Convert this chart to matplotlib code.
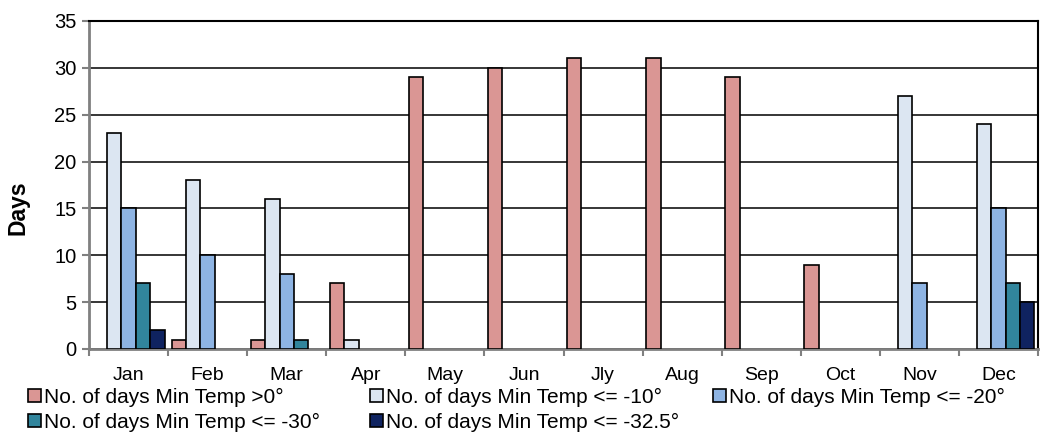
import numpy as np
import matplotlib.pyplot as plt
from matplotlib.patches import Patch

plt.rcParams['font.family'] = ['Liberation Sans', 'DejaVu Sans']

months = ['Jan', 'Feb', 'Mar', 'Apr', 'May', 'Jun', 'Jly', 'Aug', 'Sep', 'Oct', 'Nov', 'Dec']
series_names = ['No. of days Min Temp >0°',
                'No. of days Min Temp <= -10°',
                'No. of days Min Temp <= -20°',
                'No. of days Min Temp <= -30°',
                'No. of days Min Temp <= -32.5°']
above_0 = [0, 1, 1, 7, 29, 30, 31, 31, 29, 9, 0, 0]
below_10 = [23, 18, 16, 1, 0, 0, 0, 0, 0, 0, 27, 24]
below_20 = [15, 10, 8, 0, 0, 0, 0, 0, 0, 0, 7, 15]
below_30 = [7, 0, 1, 0, 0, 0, 0, 0, 0, 0, 0, 7]
below_32_5 = [2, 0, 0, 0, 0, 0, 0, 0, 0, 0, 0, 5]
colors = ['#DA9694', '#DCE6F2', '#8EB4E3', '#31859C', '#0F2360']

all_series = [above_0, below_10, below_20, below_30, below_32_5]

W, H = 1040, 433
fig = plt.figure(figsize=(W / 100, H / 100), dpi=100)
ax = fig.add_axes([89 / W, 1 - 349 / H, 949 / W, 328 / H])

x = np.arange(len(months))
bar_w = 0.182
for i, (vals, col) in enumerate(zip(all_series, colors)):
    vals = np.array(vals, dtype=float)
    mask = vals > 0
    ax.bar(x[mask] + (i - 2) * bar_w, vals[mask], width=bar_w, color=col,
           edgecolor='black', linewidth=1.2, zorder=3)

ax.set_xlim(-0.5, len(months) - 0.5)
ax.set_ylim(0, 35)
ax.set_yticks(range(0, 36, 5))
ax.yaxis.grid(True, color='black', linewidth=1.1, zorder=0)
ax.set_axisbelow(True)

ax.set_xticks(x)
ax.set_xticklabels(months, fontsize=14)
ax.set_xticks(np.arange(-0.5, len(months)), minor=True)
ax.tick_params(axis='x', which='major', length=0, pad=13)
ax.tick_params(axis='x', which='minor', length=5, width=1.5, color='#808080', direction='out')
ax.tick_params(axis='y', length=5, width=1.5, color='#808080', labelsize=14.5, pad=4)

for s in ['left', 'bottom']:
    ax.spines[s].set_color('#808080')
    ax.spines[s].set_linewidth(2)
for s in ['top', 'right']:
    ax.spines[s].set_color('black')
    ax.spines[s].set_linewidth(1.5)

ax.set_ylabel('Days', fontsize=16.5, fontweight='bold')
ax.yaxis.set_label_coords(-0.063, 0.43)

# legend entries laid out like the spreadsheet: fixed column positions
legend_pos = [(28, 397), (370, 397), (713, 397), (28, 422), (370, 422)]
for c, n, (lx, ly) in zip(colors, series_names, legend_pos):
    h = Patch(facecolor=c, edgecolor='black', linewidth=1.2)
    fig.legend([h], [n], loc='center left', bbox_to_anchor=(lx / W, 1 - ly / H),
               frameon=False, fontsize=15, handlelength=0.62, handleheight=0.6,
               handletextpad=0.15, borderpad=0, borderaxespad=0)

fig.savefig('out.png', dpi=100)
